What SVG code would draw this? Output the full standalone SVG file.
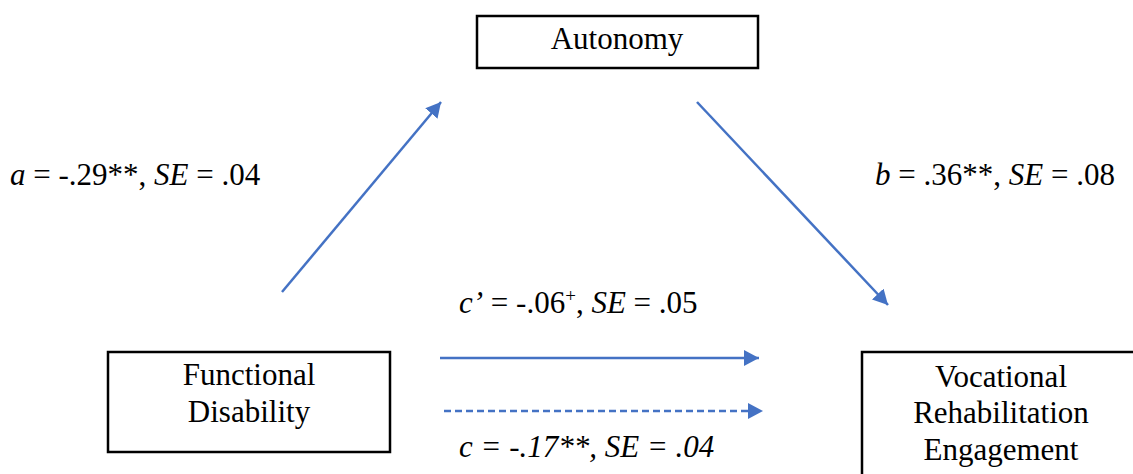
<svg xmlns="http://www.w3.org/2000/svg" width="1133" height="474" viewBox="0 0 1133 474" font-family="Liberation Serif, DejaVu Serif, serif">
  <style>
    .box { fill: #ffffff; stroke: #000000; stroke-width: 2.5; }
    .lbl { font-size: 31px; fill: #000000; }
    .mid { text-anchor: middle; }
    .conn { stroke: #4472C4; stroke-width: 2.5; fill: none; marker-end: url(#ah); }
    .dash { stroke-dasharray: 7 4; }
    .it { font-style: italic; }
  </style>
  <defs>
    <marker id="ah" markerUnits="userSpaceOnUse" markerWidth="16" markerHeight="16" viewBox="0 0 16 16" refX="15" refY="8" orient="auto">
      <path d="M0,0 L15,8 L0,16 Z" fill="#4472C4"/>
    </marker>
  </defs>
  <rect width="1133" height="474" fill="#ffffff"/>

  <g id="autonomy">
    <rect class="box" x="477" y="16" width="281" height="52"/>
    <text class="lbl mid" x="617" y="49" font-family="Liberation Serif, serif">Autonomy</text>
  </g>

  <g id="functional-disability">
    <rect class="box" x="108" y="352" width="282" height="100"/>
    <text class="lbl mid" x="249" y="385" font-family="Liberation Serif, serif">Functional</text>
    <text class="lbl mid" x="249" y="422" font-family="Liberation Serif, serif">Disability</text>
  </g>

  <g id="vocational-rehabilitation-engagement">
    <rect class="box" x="862" y="352" width="280" height="140"/>
    <text class="lbl mid" x="1001" y="387" font-family="Liberation Serif, serif">Vocational</text>
    <text class="lbl mid" x="1001" y="423" font-family="Liberation Serif, serif">Rehabilitation</text>
    <text class="lbl mid" x="1001" y="460" font-family="Liberation Serif, serif">Engagement</text>
  </g>

  <g id="connectors">
    <line class="conn" x1="282" y1="292" x2="441" y2="102"/>
    <line class="conn" x1="697" y1="102" x2="888" y2="305"/>
    <line class="conn" x1="440" y1="358" x2="759" y2="358"/>
    <line class="conn dash" x1="444" y1="411" x2="763" y2="411"/>
  </g>

  <g id="labels" font-family="Liberation Serif, serif">
    <text class="lbl" x="10" y="185"><tspan class="it">a</tspan> = -.29**, <tspan class="it">SE</tspan> = .04</text>
    <text class="lbl" x="875" y="185"><tspan class="it">b</tspan> = .36**, <tspan class="it">SE</tspan> = .08</text>
    <text class="lbl" x="459" y="313"><tspan class="it">c’</tspan> = -.06<tspan font-size="19" dy="-11">+</tspan><tspan dy="11">, </tspan><tspan class="it">SE</tspan> = .05</text>
    <text class="lbl it" x="459" y="457">c = -.17**, SE = .04</text>
  </g>
</svg>
